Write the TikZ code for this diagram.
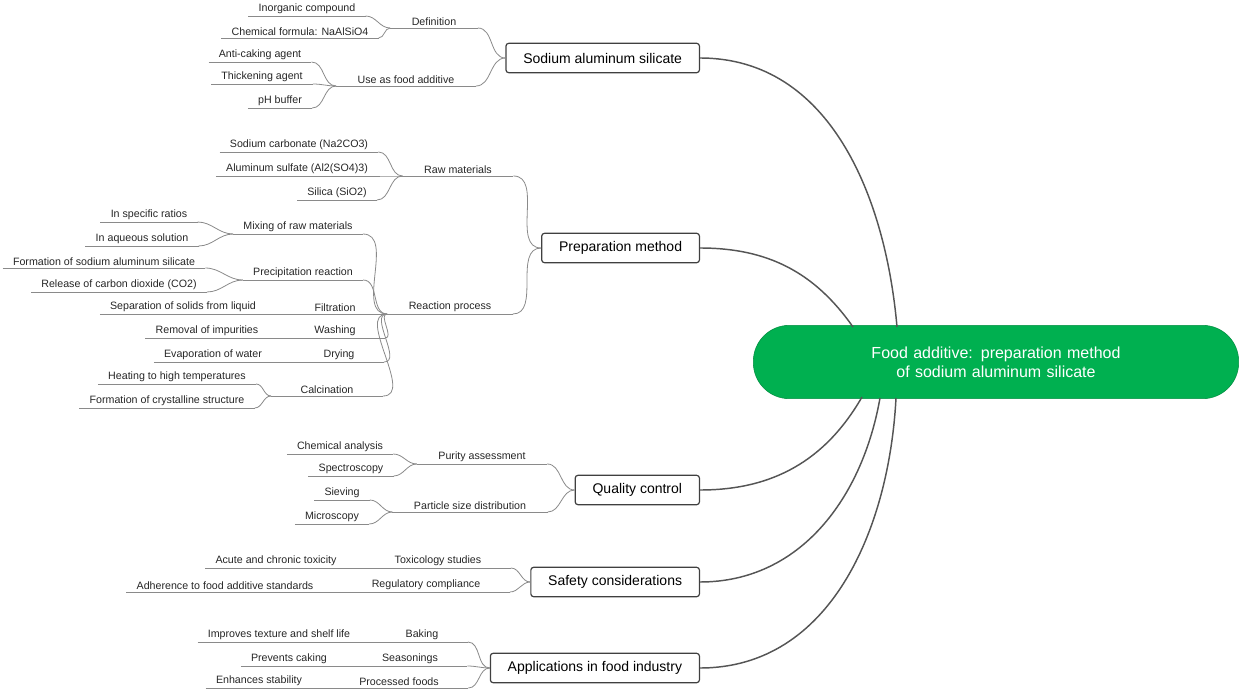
\documentclass[tikz,border=0pt]{standalone}
\usepackage{fontspec}
\setmainfont{Liberation Sans}
\definecolor{rootgreen}{HTML}{00B050}
\definecolor{linkgray}{HTML}{555555}
\definecolor{leafgray}{HTML}{8A8A8A}
\tikzset{
  leaf/.style={anchor=south,inner xsep=7.5pt,inner ysep=1.6pt,text=black!85,
    font=\fontsize{8}{9}\selectfont,
    append after command={(\tikzlastnode.south west) edge[leafgray,line width=0.6pt] (\tikzlastnode.south east)}},
  topic/.style={anchor=east,draw=black!75,line width=0.9pt,rounded corners=2pt,
    minimum height=22pt,inner xsep=13pt,font=\fontsize{10.5}{12}\selectfont},
  twig/.style={leafgray,line width=0.6pt},
  branch/.style={linkgray,line width=1.1pt}
}
\begin{document}
\begin{tikzpicture}[x=0.75pt,y=-0.75pt]
\useasboundingbox (0,0) rectangle (1240,692);

\node[draw=rootgreen!80!black,fill=rootgreen,text=white,rounded corners=27pt,
  minimum width=364pt,minimum height=55pt,text width=285pt,align=center,
  font=\fontsize{12}{14.5}\selectfont] (root) at (996,362)
  {Food additive: preparation method of sodium aluminum silicate};
\coordinate (r1) at (897,327);
\coordinate (r2) at (853,327);
\coordinate (r3) at (862,397);
\coordinate (r4) at (880,398);
\coordinate (r5) at (896,398);

% topics
\node[topic] (sas) at (700,58) {Sodium aluminum silicate};
\node[topic] (prep) at (700,248) {Preparation method};
\node[topic] (qc) at (700,490) {Quality control};
\node[topic] (safe) at (700,582) {Safety considerations};
\node[topic] (app) at (700,668) {Applications in food industry};

\draw[branch] (sas.east) to[out=0,in=95] (r1);
\draw[branch] (prep.east) to[out=0,in=125] (r2);
\draw[branch] (qc.east) to[out=0,in=-120] (r3);
\draw[branch] (safe.east) to[out=0,in=-100] (r4);
\draw[branch] (app.east) to[out=0,in=-93] (r5);

% sodium aluminum silicate
\node[leaf,inner xsep=16pt] (def) at (434,28) {Definition};
\node[leaf] (inorg) at (307,16) {Inorganic compound};
\node[leaf] (formula) at (300,38) {Chemical formula: NaAlSiO4};
\node[leaf,inner xsep=16pt] (use) at (406,86) {Use as food additive};
\node[leaf] (anti) at (260,62) {Anti-caking agent};
\node[leaf] (thick) at (262,84) {Thickening agent};
\node[leaf] (ph) at (280,108) {pH buffer};

\draw[twig] (def.south east) to[out=0,in=180] (sas.west);
\draw[twig] (use.south east) to[out=0,in=180] (sas.west);
\foreach \c in {inorg,formula} \draw[twig] (\c.south east) to[out=0,in=180] (def.south west);
\foreach \c in {anti,thick,ph} \draw[twig] (\c.south east) to[out=0,in=180] (use.south west);

% preparation method
\node[leaf,inner xsep=16pt] (raw) at (458,176) {Raw materials};
\node[leaf] (na) at (299,152) {Sodium carbonate (Na2CO3)};
\node[leaf] (al) at (297,176) {Aluminum sulfate (Al2(SO4)3)};
\node[leaf] (si) at (337,200) {Silica (SiO2)};
\node[leaf,inner xsep=16pt] (react) at (450,314) {Reaction process};
\node[leaf] (mix) at (298,234) {Mixing of raw materials};
\node[leaf] (ratio) at (149,222) {In specific ratios};
\node[leaf] (aq) at (142,246) {In aqueous solution};
\node[leaf] (precip) at (303,280) {Precipitation reaction};
\node[leaf] (form) at (104,268) {Formation of sodium aluminum silicate};
\node[leaf] (co2) at (119,292) {Release of carbon dioxide (CO2)};
\node[leaf,inner xsep=22pt] (filt) at (335,314) {Filtration};
\node[leaf] (sep) at (183,314) {Separation of solids from liquid};
\node[leaf,inner xsep=22pt] (wash) at (335,338) {Washing};
\node[leaf] (imp) at (207,338) {Removal of impurities};
\node[leaf,inner xsep=22pt] (dry) at (339,362) {Drying};
\node[leaf] (evap) at (213,362) {Evaporation of water};
\node[leaf,inner xsep=22pt] (calc) at (327,396) {Calcination};
\node[leaf] (heat) at (177,384) {Heating to high temperatures};
\node[leaf] (cryst) at (167,408) {Formation of crystalline structure};

\draw[twig] (raw.south east) to[out=0,in=180] (prep.west);
\draw[twig] (react.south east) to[out=0,in=180] (prep.west);
\foreach \c in {na,al,si} \draw[twig] (\c.south east) to[out=0,in=180] (raw.south west);
\foreach \c in {mix,precip,filt,wash,dry,calc} \draw[twig] (\c.south east) to[out=0,in=180] (react.south west);
\foreach \c in {ratio,aq} \draw[twig] (\c.south east) to[out=0,in=180] (mix.south west);
\foreach \c in {form,co2} \draw[twig] (\c.south east) to[out=0,in=180] (precip.south west);
\draw[twig] (sep.south east) -- (filt.south west);
\draw[twig] (imp.south east) -- (wash.south west);
\draw[twig] (evap.south east) -- (dry.south west);
\foreach \c in {heat,cryst} \draw[twig] (\c.south east) to[out=0,in=180] (calc.south west);

% quality control
\node[leaf,inner xsep=16pt] (pur) at (482,464) {Purity assessment};
\node[leaf] (chem) at (340,454) {Chemical analysis};
\node[leaf] (spec) at (351,476) {Spectroscopy};
\node[leaf,inner xsep=16pt] (part) at (470,512) {Particle size distribution};
\node[leaf] (siev) at (342,500) {Sieving};
\node[leaf] (micro) at (332,524) {Microscopy};

\draw[twig] (pur.south east) to[out=0,in=180] (qc.west);
\draw[twig] (part.south east) to[out=0,in=180] (qc.west);
\foreach \c in {chem,spec} \draw[twig] (\c.south east) to[out=0,in=180] (pur.south west);
\foreach \c in {siev,micro} \draw[twig] (\c.south east) to[out=0,in=180] (part.south west);

% safety considerations
\node[leaf,inner xsep=22pt] (tox) at (438,568) {Toxicology studies};
\node[leaf] (acute) at (276,568) {Acute and chronic toxicity};
\node[leaf,inner xsep=22pt] (reg) at (426,592) {Regulatory compliance};
\node[leaf] (adh) at (225,592) {Adherence to food additive standards};

\draw[twig] (tox.south east) to[out=0,in=180] (safe.west);
\draw[twig] (reg.south east) to[out=0,in=180] (safe.west);
\draw[twig] (acute.south east) -- (tox.south west);
\draw[twig] (adh.south east) -- (reg.south west);

% applications in food industry
\node[leaf,inner xsep=22pt] (bake) at (422,642) {Baking};
\node[leaf] (tex) at (279,642) {Improves texture and shelf life};
\node[leaf,inner xsep=22pt] (seas) at (410,666) {Seasonings};
\node[leaf] (cake) at (289,666) {Prevents caking};
\node[leaf,inner xsep=22pt] (proc) at (399,688) {Processed foods};
\node[leaf] (stab) at (259,688) {Enhances stability};

\foreach \c in {bake,seas,proc} \draw[twig] (\c.south east) to[out=0,in=180] (app.west);
\draw[twig] (tex.south east) -- (bake.south west);
\draw[twig] (cake.south east) -- (seas.south west);
\draw[twig] (stab.south east) -- (proc.south west);
\end{tikzpicture}
\end{document}
